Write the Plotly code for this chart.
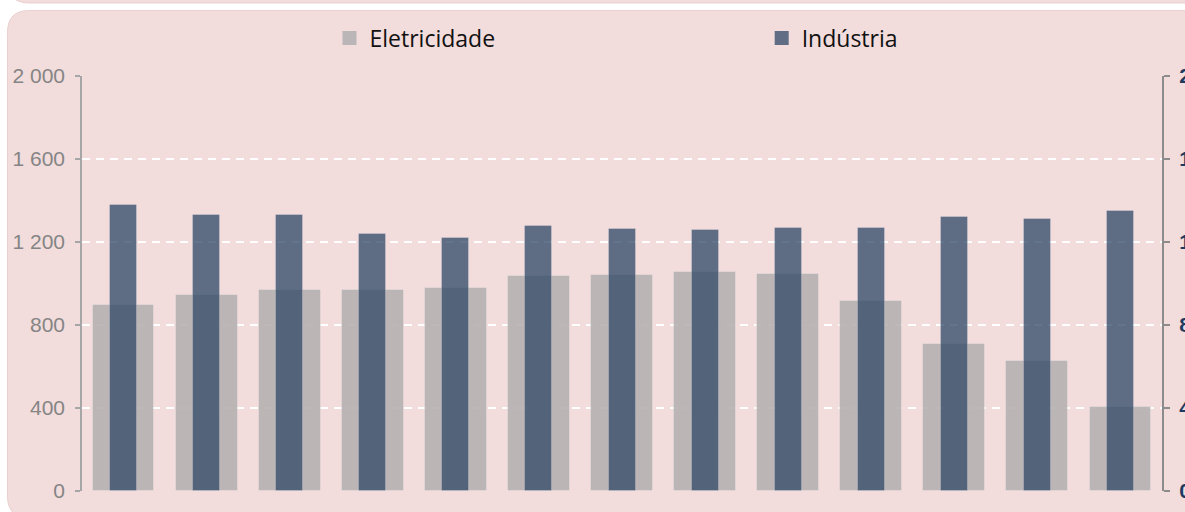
import plotly.graph_objects as go

categories = [str(i) for i in range(1, 14)]
eletricidade = [896, 944, 971, 971, 979, 1035, 1042, 1056, 1048, 915, 708, 627, 407]
industria = [1380, 1330, 1330, 1237, 1221, 1276, 1263, 1257, 1268, 1268, 1319, 1311, 1350]
tick_vals = [0, 400, 800, 1200, 1600, 2000]
tick_text = ["0", "400", "800", "1 200", "1 600", "2 000"]

W, H = 1185, 512
L, R, T, B = 82, 23, 76, 21
PW, PH = W - L - R, H - T - B


def px(x, y):
    return (x - L) / PW, (H - B - y) / PH


def rounded_path(x0, y0, x1, y1, r):
    pts = []
    a = px(x0, y0 + r); pts.append(f"M{a[0]},{a[1]}")
    c = px(x0, y0); e = px(x0 + r, y0); pts.append(f"Q{c[0]},{c[1]} {e[0]},{e[1]}")
    e = px(x1, y0); pts.append(f"L{e[0]},{e[1]}")
    e = px(x1, y1); pts.append(f"L{e[0]},{e[1]}")
    e = px(x0 + r, y1); pts.append(f"L{e[0]},{e[1]}")
    c = px(x0, y1); e = px(x0, y1 - r); pts.append(f"Q{c[0]},{c[1]} {e[0]},{e[1]}")
    pts.append("Z")
    return " ".join(pts)


fig = go.Figure()
fig.add_trace(go.Bar(
    x=categories, y=eletricidade, name="Eletricidade", yaxis="y", showlegend=False,
    width=0.745, marker=dict(color="rgb(180,176,177)", opacity=0.88,
                             line=dict(color="rgba(255,255,255,0.25)", width=1)),
))
fig.add_trace(go.Bar(
    x=categories, y=industria, name="Indústria", yaxis="y2", showlegend=False,
    width=0.325, marker=dict(color="rgb(47,72,103)", opacity=0.75,
                             line=dict(color="rgba(255,255,255,0.25)", width=1)),
))
# legend entries
fig.add_trace(go.Scatter(x=[None], y=[None], mode="markers", name="Eletricidade",
                         legend="legend",
                         marker=dict(symbol="square", size=14, color="#bab5b6",
                                     line=dict(width=0))))
fig.add_trace(go.Scatter(x=[None], y=[None], mode="markers", name="Indústria",
                         legend="legend2",
                         marker=dict(symbol="square", size=14, color="#606d84",
                                     line=dict(width=0))))

legend_font = dict(family="Open Sans", size=23, color="#111111")
panel_fill = "#f2dcdc"
panel_line = "#ead0d0"
fig.update_layout(
    width=W, height=H,
    margin=dict(l=L, r=R, t=T, b=B, pad=0),
    paper_bgcolor="white", plot_bgcolor="rgba(0,0,0,0)",
    barmode="overlay", bargap=0,
    showlegend=True,
    legend=dict(orientation="h", x=px(329.5, 0)[0], xanchor="left",
                y=px(0, 38)[1], yanchor="middle",
                bgcolor="rgba(0,0,0,0)", font=legend_font),
    legend2=dict(orientation="h", x=px(761.7, 0)[0], xanchor="left",
                 y=px(0, 38)[1], yanchor="middle",
                 bgcolor="rgba(0,0,0,0)", font=legend_font),
    xaxis=dict(range=[-0.5, 12.5], showticklabels=False, showgrid=False,
               zeroline=False, showline=False, ticks="", fixedrange=True),
    yaxis=dict(range=[0, 2000], tickvals=tick_vals, ticktext=tick_text,
               showgrid=True, gridcolor="white", gridwidth=2, griddash="8px,6px",
               zeroline=False, showline=True, linecolor="#a6a6a6", linewidth=1.5,
               ticks="outside", ticklen=5, tickcolor="#a6a6a6", tickwidth=1.5,
               tickfont=dict(family="Liberation Sans", size=21, color="#858585"),
               ticklabelstandoff=6, automargin=False),
    yaxis2=dict(range=[0, 2000], tickvals=tick_vals, ticktext=tick_text,
                overlaying="y", side="right", showgrid=False, zeroline=False,
                showline=True, linecolor="#8c8c8c", linewidth=2,
                ticks="outside", ticklen=6, tickcolor="#8c8c8c", tickwidth=2,
                tickfont=dict(family="Liberation Sans", size=21, color="#1f3a60", weight="bold"),
                ticklabelstandoff=5, automargin=False),
    shapes=[
        dict(type="path", xref="paper", yref="paper", layer="below",
             path=rounded_path(7.5, 10.5, 1230, 518, 22),
             fillcolor=panel_fill, line=dict(color=panel_line, width=1)),
        dict(type="path", xref="paper", yref="paper", layer="below",
             path=rounded_path(7.5, -60, 1230, 3, 22),
             fillcolor=panel_fill, line=dict(color=panel_line, width=1)),
    ],
)

fig.write_html("out.html", config=dict(displayModeBar=False),
               post_script="document.body.style.margin='0';document.body.style.overflow='hidden';")
